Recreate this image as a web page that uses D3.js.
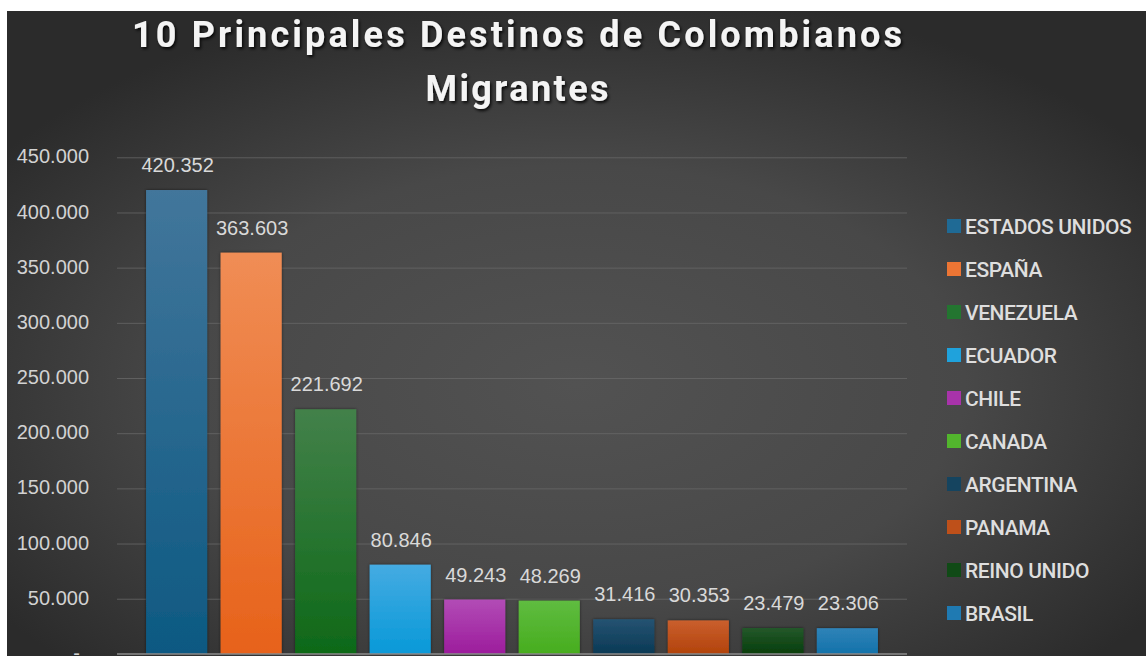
<!DOCTYPE html>
<html>
<head>
<meta charset="utf-8">
<script src="https://cdn.jsdelivr.net/npm/d3@7"></script>
<style>
  html, body { margin: 0; padding: 0; background: #ffffff; }
  svg { display: block; }
</style>
</head>
<body>
<svg id="chart" width="1146" height="656"></svg>
<script>
const categories = ["ESTADOS UNIDOS","ESPAÑA","VENEZUELA","ECUADOR","CHILE","CANADA","ARGENTINA","PANAMA","REINO UNIDO","BRASIL"];
const values = [420352, 363603, 221692, 80846, 49243, 48269, 31416, 30353, 23479, 23306];
const yTicks = [0, 50000, 100000, 150000, 200000, 250000, 300000, 350000, 400000, 450000];
const titleLines = ["10 Principales Destinos de Colombianos", "Migrantes"];
const colorsTop = ["#42769b", "#f08d55", "#43814a", "#45abe2", "#b24cb6", "#5fbc40", "#255372", "#ca5f2e", "#24582a", "#2f83b8"];
const colorsBottom = ["#0d5982", "#e7621a", "#0e6918", "#0899d8", "#9c1c9c", "#47ad1e", "#0a3955", "#b2430b", "#063e0c", "#1372aa"];
const colorsSwatch = ["#1f6a95", "#ec7534", "#237530", "#1fa2dc", "#a833aa", "#52b52d", "#15445f", "#be501a", "#104a16", "#1f7ab2"];

const svg = d3.select("#chart");
const defs = svg.append("defs");

const bg = defs.append("radialGradient").attr("id", "bg")
  .attr("cx", "50%").attr("cy", "58%").attr("r", "62%");
bg.append("stop").attr("offset", "0%").attr("stop-color", "#525252");
bg.append("stop").attr("offset", "55%").attr("stop-color", "#484848");
bg.append("stop").attr("offset", "100%").attr("stop-color", "#2b2b2b");

categories.forEach((c, i) => {
  const g = defs.append("linearGradient").attr("id", "bar" + i)
    .attr("x1", 0).attr("y1", 0).attr("x2", 0).attr("y2", 1);
  g.append("stop").attr("offset", "0%").attr("stop-color", colorsTop[i]);
  g.append("stop").attr("offset", "100%").attr("stop-color", colorsBottom[i]);
});

const ts = defs.append("filter").attr("id", "tshadow").attr("x", "-10%").attr("y", "-30%").attr("width", "120%").attr("height", "160%");
ts.append("feDropShadow").attr("dx", 1.5).attr("dy", 2).attr("stdDeviation", 1.6)
  .attr("flood-color", "#000").attr("flood-opacity", 0.85);

const bs = defs.append("filter").attr("id", "bshadow").attr("x", "-20%").attr("y", "-20%").attr("width", "140%").attr("height", "140%");
bs.append("feDropShadow").attr("dx", 0).attr("dy", 0).attr("stdDeviation", 1.8)
  .attr("flood-color", "#000").attr("flood-opacity", 0.55);

// background panel
svg.append("rect").attr("x", 7).attr("y", 11).attr("width", 1139).attr("height", 645).attr("fill", "url(#bg)");

const x = d3.scaleBand().domain(categories).range([117, 907]).paddingInner(0.18).paddingOuter(0.39);
const y = d3.scaleLinear().domain([0, 450000]).range([653.9, 157.3]);
const fmt = d3.formatLocale({ decimal: ",", thousands: ".", grouping: [3], currency: ["", ""] }).format(",");

// gridlines
const grid = svg.append("g").attr("transform", "translate(907,0)")
  .call(d3.axisLeft(y).tickValues(yTicks.filter(v => v > 0)).tickSize(790).tickFormat(""));
grid.select(".domain").remove();
grid.selectAll("line").attr("stroke", "#6a6a6a").attr("stroke-width", 1).attr("stroke-opacity", 0.75);

// y labels
const yax = svg.append("g").attr("transform", "translate(89,0)")
  .call(d3.axisLeft(y).tickValues(yTicks).tickSize(0).tickPadding(0)
    .tickFormat(v => v === 0 ? "-" : fmt(v)));
yax.select(".domain").remove();
yax.selectAll("text")
  .attr("font-family", "'Liberation Sans', Arial, sans-serif")
  .attr("font-size", 20).attr("fill", "#d2d2d2").attr("dy", "0.28em")
  .attr("x", v => v === 0 ? -9 : 0);

// bars
svg.append("g").selectAll("rect").data(values).join("rect")
  .attr("x", (d, i) => x(categories[i]))
  .attr("y", d => y(d))
  .attr("width", x.bandwidth())
  .attr("height", d => y(0) - y(d))
  .attr("fill", (d, i) => `url(#bar${i})`)
  .attr("filter", "url(#bshadow)");

// baseline axis
svg.append("line").attr("x1", 117).attr("x2", 907).attr("y1", y(0)).attr("y2", y(0))
  .attr("stroke", "#8c8c8c").attr("stroke-width", 1.5);

// value labels
svg.append("g").selectAll("text").data(values).join("text")
  .attr("x", (d, i) => x(categories[i]) + x.bandwidth() / 2 + 1)
  .attr("y", d => y(d) - 18)
  .attr("text-anchor", "middle")
  .attr("font-family", "'Liberation Sans', Arial, sans-serif")
  .attr("font-size", 20).attr("fill", "#d9d9d9")
  .text(d => fmt(d));

// title
svg.append("g").selectAll("text").data(titleLines).join("text")
  .attr("x", 517)
  .attr("y", (d, i) => i === 0 ? 47 : 101)
  .attr("text-anchor", "middle")
  .attr("font-family", "Roboto, 'Open Sans', sans-serif")
  .attr("font-weight", 700)
  .attr("font-size", 36)
  .attr("textLength", (d, i) => i === 0 ? 770 : 183)
  .attr("lengthAdjust", "spacing")
  .attr("fill", "#f4f4f4")
  .attr("filter", "url(#tshadow)")
  .text(d => d);

// legend
const ly = d3.scalePoint().domain(categories).range([226, 613]);
const leg = svg.append("g").selectAll("g").data(categories).join("g")
  .attr("transform", d => `translate(947,${ly(d)})`);
leg.append("rect").attr("x", 0).attr("y", -7).attr("width", 14).attr("height", 14)
  .attr("fill", (d, i) => colorsSwatch[i]);
leg.append("text").attr("x", 18).attr("y", 7.5)
  .attr("font-family", "Roboto, sans-serif").attr("font-weight", 500)
  .attr("font-size", 21).attr("letter-spacing", -0.4)
  .attr("fill", "#dedede")
  .text(d => d);
</script>
</body>
</html>
